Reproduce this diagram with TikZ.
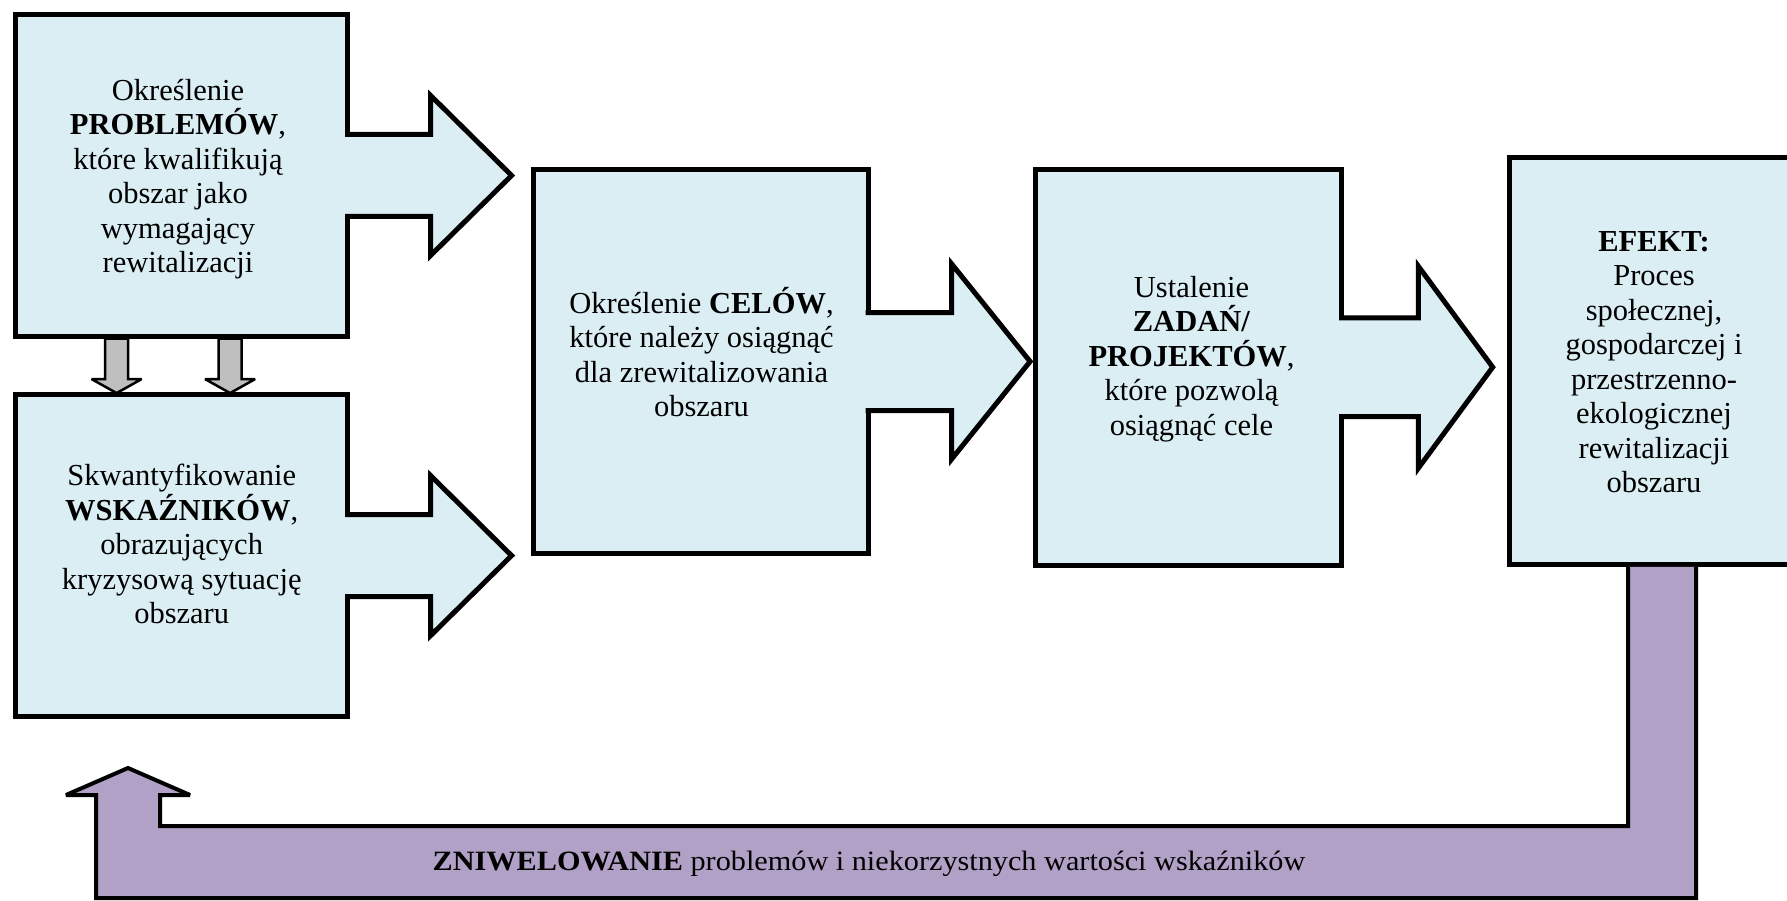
\documentclass[tikz,border=0pt]{standalone}
\usepackage{fontspec}
\setmainfont{Liberation Serif}
\usetikzlibrary{calc}
\definecolor{boxfill}{HTML}{DBEEF3}
\definecolor{lilac}{HTML}{B2A1C7}
\definecolor{arrowgray}{HTML}{BFBFBF}
\tikzset{
 stagebox/.style={rectangle, draw=black, line width=5pt, fill=boxfill, inner sep=0pt, outer sep=0pt},
 stagetext/.style={align=center, inner sep=0pt, font=\fontsize{30.5}{34.5}\selectfont},
 outline/.style={draw=black, line width=5pt, line join=miter, miter limit=10},
 grayarrow/.style={draw=black, fill=arrowgray, line width=2.5pt, line join=miter, miter limit=3},
 backarrow/.style={draw=black, line width=4pt, line join=miter, miter limit=2},
}
\newcommand{\stagearrow}[5]{%
  \fill[boxfill] ($(#1.east)+(-3,-#2)$) -- ($(#1.east)+(#3,-#2)$) -- ($(#1.east)+(#3,-#4)$) -- ($(#1.east)+(#5,0)$) -- ($(#1.east)+(#3,#4)$) -- ($(#1.east)+(#3,#2)$) -- ($(#1.east)+(-3,#2)$) -- cycle;
  \draw[outline] ($(#1.east)+(-2.5,-#2)$) -- ($(#1.east)+(#3,-#2)$) -- ($(#1.east)+(#3,-#4)$) -- ($(#1.east)+(#5,0)$) -- ($(#1.east)+(#3,#4)$) -- ($(#1.east)+(#3,#2)$) -- ($(#1.east)+(-2.5,#2)$);
}
\newcommand{\grayarrowdraw}[2]{%
  \draw[grayarrow] ($(#1)+(-11.5,0)$) -- ($(#2)+(-11.5,-14)$) -- ($(#2)+(-25,-14)$) -- (#2) -- ($(#2)+(25,-14)$) -- ($(#2)+(11.5,-14)$) -- ($(#1)+(11.5,0)$) -- cycle;
}
\begin{document}
\begin{tikzpicture}[x=1pt,y=-1pt]
\clip (0,0) rectangle (1787,901);
\fill[white] (0,0) rectangle (1787,901);
% boxes
\node[stagebox, minimum width=332pt, minimum height=321pt] (b1) at (181.6,175.5) {};
\node[stagebox, minimum width=332pt, minimum height=322pt] (b2) at (181.6,555.6) {};
\node[stagebox, minimum width=335pt, minimum height=384.5pt] (b3) at (700.6,361.5) {};
\node[stagebox, minimum width=306pt, minimum height=395.7pt] (b4) at (1188.7,367.2) {};
\node[stagebox, minimum width=290pt, minimum height=406.8pt] (b5) at (1654,360.9) {};
% big arrows
\stagearrow{b1}{41}{83}{80}{164}
\stagearrow{b2}{41}{83}{80}{164}
\stagearrow{b3}{49}{83.6}{97.5}{162}
\stagearrow{b4}{49.3}{76.6}{101}{151}
% gray arrows between b1 and b2
\coordinate (g1a) at ($(b1.south)+(-65,2.5)$);
\coordinate (g1b) at ($(b2.north)+(-65,-1.5)$);
\coordinate (g2a) at ($(b1.south)+(48.5,2.5)$);
\coordinate (g2b) at ($(b2.north)+(48.5,-1.5)$);
\grayarrowdraw{g1a}{g1b}
\grayarrowdraw{g2a}{g2b}
% feedback arrow
\coordinate (p1) at ($(b5.south)+(-26,2.5)$);
\coordinate (p2) at ($(b5.south)+(42,2.5)$);
\coordinate (fbtip) at (128,768);
\fill[lilac] (p1) -- (p1 |- 0,826) -- (160,826) -- (160,795) -- (190,795) -- (fbtip) -- (66,795) -- (96,795) -- (96,898) -- (p2 |- 0,898) -- (p2) -- cycle;
\draw[backarrow] (p1) -- (p1 |- 0,826) -- (160,826) -- (160,795) -- (190,795) -- (fbtip) -- (66,795) -- (96,795) -- (96,898) -- (p2 |- 0,898) -- (p2);
% texts
\node[stagetext] (t1) at (178,179) {Określenie\\\textbf{PROBLEMÓW},\\które kwalifikują\\obszar jako\\wymagający\\rewitalizacji};
\node[stagetext] (t2) at (181.7,544) {Skwantyfikowanie\\\textbf{WSKAŹNIKÓW},\\obrazujących\\kryzysową sytuację\\obszaru};
\node[stagetext] (t3) at (701.5,352) {Określenie \textbf{CELÓW},\\które należy osiągnąć\\dla zrewitalizowania\\obszaru};
\node[stagetext] (t4) at (1191.5,359) {Ustalenie\\\textbf{ZADAŃ/}\\\textbf{PROJEKTÓW},\\które pozwolą\\osiągnąć cele};
\node[stagetext] (t5) at (1654,362) {\textbf{EFEKT:}\\Proces\\społecznej,\\gospodarczej i\\przestrzenno-\\ekologicznej\\rewitalizacji\\obszaru};
\node[font=\fontsize{28}{32}\selectfont, inner sep=0pt] (fbtext) at (869,864) {\scalebox{1.08}[1]{\textbf{ZNIWELOWANIE} problemów i niekorzystnych wartości wskaźników}};
\end{tikzpicture}
\end{document}
